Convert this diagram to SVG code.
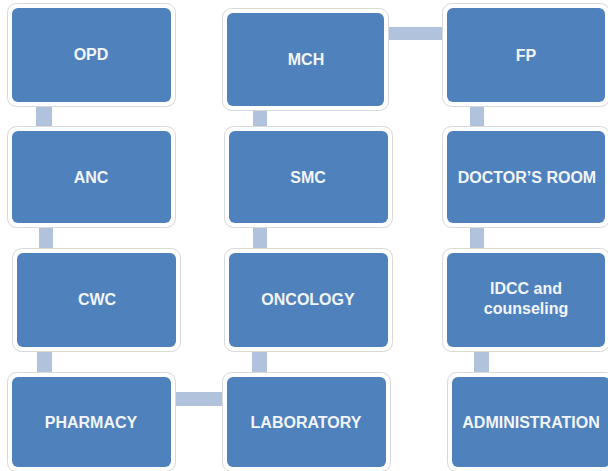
<svg xmlns="http://www.w3.org/2000/svg" width="608" height="471" viewBox="0 0 608 471">
<style>
.frame{fill:#ffffff;stroke:#d8d8d8;stroke-width:1}
.box{fill:#4f81bd}
.lbl{font-family:"Liberation Sans",Arial,sans-serif;font-weight:bold;font-size:16px;fill:#f2f5fa;text-anchor:middle}
.conn{fill:#b1c2dd}
</style>
<rect width="608" height="471" fill="#ffffff"/>
<g id="connectors">
<rect class="conn" x="36" y="100" width="16" height="33"/>
<rect class="conn" x="39" y="221" width="14" height="34"/>
<rect class="conn" x="37" y="345" width="15" height="34"/>
<rect class="conn" x="171" y="392" width="57" height="14"/>
<rect class="conn" x="253" y="104" width="14" height="29"/>
<rect class="conn" x="253" y="221" width="14" height="34"/>
<rect class="conn" x="252" y="345" width="15" height="34"/>
<rect class="conn" x="384" y="27" width="63" height="13"/>
<rect class="conn" x="470" y="100" width="14" height="33"/>
<rect class="conn" x="470" y="221" width="14" height="34"/>
<rect class="conn" x="474" y="345" width="15" height="34"/>
</g>
<g id="opd"><rect class="frame" x="7.5" y="3.5" width="168" height="103" rx="9"/><rect class="box" x="12" y="8" width="159" height="94" rx="6"/><text class="lbl" x="91" y="60">OPD</text></g>
<g id="anc"><rect class="frame" x="7.5" y="126.5" width="168" height="101" rx="9"/><rect class="box" x="12" y="131" width="159" height="92" rx="6"/><text class="lbl" x="91" y="183">ANC</text></g>
<g id="cwc"><rect class="frame" x="12.5" y="248.5" width="168" height="103" rx="9"/><rect class="box" x="17" y="253" width="159" height="94" rx="6"/><text class="lbl" x="97" y="305">CWC</text></g>
<g id="pharmacy"><rect class="frame" x="7.5" y="372.5" width="168" height="99" rx="9"/><rect class="box" x="12" y="377" width="159" height="90" rx="6"/><text class="lbl" x="91" y="428">PHARMACY</text></g>
<g id="mch"><rect class="frame" x="222.5" y="8.5" width="166" height="102" rx="9"/><rect class="box" x="227" y="13" width="157" height="93" rx="6"/><text class="lbl" x="306" y="65">MCH</text></g>
<g id="smc"><rect class="frame" x="224.5" y="126.5" width="168" height="101" rx="9"/><rect class="box" x="229" y="131" width="159" height="92" rx="6"/><text class="lbl" x="308" y="183">SMC</text></g>
<g id="oncology"><rect class="frame" x="224.5" y="248.5" width="168" height="103" rx="9"/><rect class="box" x="229" y="253" width="159" height="94" rx="6"/><text class="lbl" x="308" y="305">ONCOLOGY</text></g>
<g id="laboratory"><rect class="frame" x="222.5" y="372.5" width="168" height="99" rx="9"/><rect class="box" x="227" y="377" width="159" height="90" rx="6"/><text class="lbl" x="306" y="428">LABORATORY</text></g>
<g id="fp"><rect class="frame" x="442.5" y="3.5" width="167" height="103" rx="9"/><rect class="box" x="447" y="8" width="158" height="94" rx="6"/><text class="lbl" x="526" y="61">FP</text></g>
<g id="doctors-room"><rect class="frame" x="442.5" y="126.5" width="167" height="101" rx="9"/><rect class="box" x="447" y="131" width="158" height="92" rx="6"/><text class="lbl" x="527" y="183">DOCTOR’S ROOM</text></g>
<g id="idcc"><rect class="frame" x="442.5" y="248.5" width="167" height="103" rx="9"/><rect class="box" x="447" y="253" width="158" height="94" rx="6"/><text class="lbl" x="526" y="294">IDCC and</text><text class="lbl" x="526" y="314">counseling</text></g>
<g id="administration"><rect class="frame" x="447.5" y="372.5" width="167" height="99" rx="9"/><rect class="box" x="452" y="377" width="158" height="90" rx="6"/><text class="lbl" x="531" y="428">ADMINISTRATION</text></g>
</svg>
